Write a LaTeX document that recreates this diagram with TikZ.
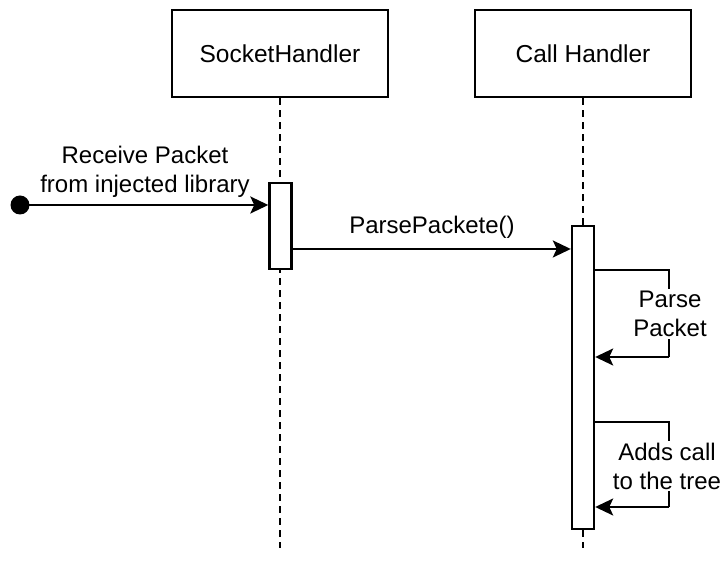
\documentclass[tikz,border=0pt]{standalone}
\usepackage{fontspec}
\setmainfont{Liberation Sans}
\usetikzlibrary{arrows.meta}
\begin{document}
\begin{tikzpicture}[x=1pt,y=-1pt,
  lbl/.style={font=\fontsize{24}{29}\selectfont, align=center, inner sep=0pt},
  actor/.style={draw, line width=2.4pt, minimum width=216pt, minimum height=87pt, inner sep=0pt, font=\fontsize{24.5}{29}\selectfont},
  actbar/.style={draw, fill=white, line width=2.4pt, minimum width=22pt, inner sep=0pt},
  life/.style={line width=2.4pt, dash pattern=on 7pt off 5pt},
  msg/.style={line width=2.4pt, -{Stealth[length=18pt,width=17pt,inset=4pt]}},
  selfline/.style={line width=2.4pt}
]
\useasboundingbox (0,0) rectangle (724,569);
% actors
\node[actor] (sh) at (280,53.5) {SocketHandler};
\node[actor] (ch) at (583,53.5) {Call Handler};
\coordinate (shend) at (280,548);
\coordinate (chend) at (583,548);
\draw[life] (sh.south) -- (shend);
\draw[life] (ch.south) -- (chend);
% activation bars
\node[actbar, minimum height=86pt] (a1) at (280.5,226) {};
\node[actbar, minimum height=303pt] (a2) at (583,377.5) {};
% found message
\node[circle, fill=black, minimum size=19pt, inner sep=0pt] (start) at (20,205) {};
\draw[msg] (start.center) -- (a1.west |- start);
\node[lbl] (l1) at (145,171.5) {Receive Packet\\from injected library};
% call message
\coordinate (m2) at (0,249);
\draw[msg] (a1.east |- m2) -- (a2.west |- m2);
\node[lbl] (l2) at (432,227) {ParsePackete()};
% self message 1
\coordinate (s1a) at (a2.east |- 0,270);
\coordinate (s1b) at (669,270);
\coordinate (s1c) at (669,357);
\coordinate (s1d) at (a2.east |- 0,357);
\draw[selfline] (s1a) -- (s1b) -- (s1c);
\draw[msg] (s1c) -- (s1d);
\node[lbl, fill=white, inner sep=2pt] (l3) at (670,314) {Parse\\Packet};
% self message 2
\coordinate (s2a) at (a2.east |- 0,422);
\coordinate (s2b) at (669,422);
\coordinate (s2c) at (669,507);
\coordinate (s2d) at (a2.east |- 0,507);
\draw[selfline] (s2a) -- (s2b) -- (s2c);
\draw[msg] (s2c) -- (s2d);
\node[lbl, fill=white, inner sep=2pt] (l4) at (667,466) {Adds call\\to the tree};
\end{tikzpicture}
\end{document}
